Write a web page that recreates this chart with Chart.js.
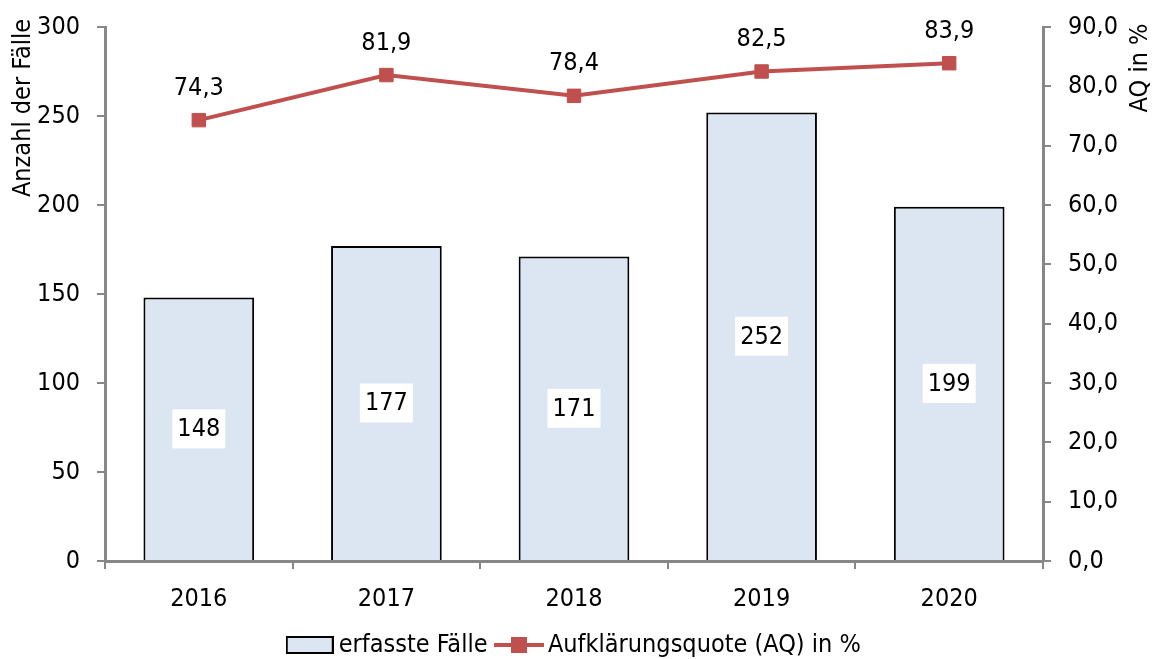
<!DOCTYPE html>
<html><head><meta charset="utf-8">
<script src="https://cdn.jsdelivr.net/npm/chart.js@4.4.0/dist/chart.umd.min.js"></script>
<style>html,body{margin:0;padding:0;background:#fff}#wrap{width:1154px;height:659px;position:relative}</style>
</head><body><div id="wrap"><canvas id="c"></canvas></div>
<script>
const years = ['2016', '2017', '2018', '2019', '2020'];
const cases = [148, 177, 171, 252, 199];
const clearanceRate = [74.3, 81.9, 78.4, 82.5, 83.9];
const seriesNames = ['erfasste Fälle', 'Aufklärungsquote (AQ) in %'];
const axisTitles = ['Anzahl der Fälle', 'AQ in %'];

const FONT = "'Liberation Sans Narrow','Arial Narrow','DejaVu Sans Condensed',sans-serif";
const BAR_FILL = '#DCE6F2';
const RED = '#C0504D';
const GRAY = '#878787';
const fmt = v => v.toFixed(1).replace('.', ',');

Chart.defaults.font.family = FONT;
Chart.defaults.font.size = 25;
Chart.defaults.color = '#000';

function barIcon() {
  const c = document.createElement('canvas');
  c.width = 48; c.height = 20;
  const x = c.getContext('2d');
  x.fillStyle = BAR_FILL; x.fillRect(1, 2, 46, 16);
  x.strokeStyle = '#000'; x.lineWidth = 2; x.strokeRect(1, 2, 46, 16);
  return c;
}
function lineIcon() {
  const c = document.createElement('canvas');
  c.width = 50; c.height = 20;
  const x = c.getContext('2d');
  x.fillStyle = RED; x.fillRect(0, 8, 50, 4);
  x.fillRect(17, 2, 16, 16);
  return c;
}

const labelPlugin = {
  id: 'valueLabels',
  afterDatasetsDraw(chart) {
    const ctx = chart.ctx;
    ctx.save();
    ctx.font = '25px ' + FONT;
    ctx.textAlign = 'center';
    ctx.textBaseline = 'middle';
    chart.getDatasetMeta(0).data.forEach((el, i) => {
      const cy = (el.y + el.base) / 2;
      ctx.fillStyle = '#fff';
      ctx.fillRect(el.x - 26.5, cy - 19.5, 53, 39);
      ctx.fillStyle = '#000';
      ctx.fillText(String(cases[i]), el.x, cy + 1);
    });
    chart.getDatasetMeta(1).data.forEach((el, i) => {
      ctx.fillStyle = '#000';
      ctx.fillText(fmt(clearanceRate[i]), el.x, el.y - 32);
    });
    ctx.restore();
  },
  afterDraw(chart) {
    const ctx = chart.ctx;
    ctx.save();
    ctx.font = '25px ' + FONT;
    ctx.fillStyle = '#000';
    ctx.textAlign = 'center';
    ctx.textBaseline = 'middle';
    ctx.translate(23, 108); ctx.rotate(-Math.PI / 2);
    ctx.fillText(axisTitles[0], 0, 0);
    ctx.restore();
    ctx.save();
    ctx.font = '25px ' + FONT;
    ctx.fillStyle = '#000';
    ctx.textAlign = 'center';
    ctx.textBaseline = 'middle';
    ctx.translate(1140, 68); ctx.rotate(-Math.PI / 2);
    ctx.fillText(axisTitles[1], 0, 0);
    ctx.restore();
  }
};

function noPad(s) { s.paddingTop = 0; s.paddingBottom = 0; }

new Chart(document.getElementById('c'), {
  data: {
    labels: years,
    datasets: [
      {
        type: 'bar', label: seriesNames[0], data: cases, yAxisID: 'y', order: 2,
        backgroundColor: BAR_FILL, borderColor: '#000', borderWidth: 2, borderSkipped: 'bottom',
        barPercentage: 0.59, categoryPercentage: 1
      },
      {
        type: 'line', label: seriesNames[1], data: clearanceRate, yAxisID: 'y1', order: 1,
        borderColor: RED, borderWidth: 4, tension: 0,
        pointStyle: 'rect', pointRadius: 9.5, pointBackgroundColor: RED, pointBorderColor: RED, pointBorderWidth: 1
      }
    ]
  },
  options: {
    responsive: true, maintainAspectRatio: false, animation: false,
    layout: { autoPadding: false, padding: { top: 27, bottom: -8.5, left: 0, right: 0 } },
    plugins: {
      tooltip: { enabled: false },
      legend: {
        position: 'bottom',
        labels: {
          usePointStyle: true, pointStyleWidth: 33, boxHeight: 25, padding: 15,
          font: { size: 25, family: FONT }, color: '#000',
          generateLabels: () => [
            { text: seriesNames[0], pointStyle: barIcon(), datasetIndex: 0, lineWidth: 0, fillStyle: BAR_FILL, strokeStyle: '#000', hidden: false },
            { text: seriesNames[1], pointStyle: lineIcon(), datasetIndex: 1, lineWidth: 0, fillStyle: RED, strokeStyle: RED, hidden: false }
          ]
        }
      }
    },
    scales: {
      x: {
        offset: true,
        grid: { offset: true, drawOnChartArea: false, tickLength: 8, color: GRAY, lineWidth: 2 },
        border: { color: GRAY, width: 3 },
        ticks: { padding: 15, color: '#000' },
        afterFit(s) { s.height = 56.5; }
      },
      y: {
        position: 'left', min: 0, max: 300,
        ticks: { stepSize: 50, padding: 17, color: '#000' },
        grid: { drawOnChartArea: false, tickLength: 8, color: GRAY, lineWidth: 2 },
        border: { color: GRAY, width: 3 },
        afterFit(s) { s.width = 105; noPad(s); }
      },
      y1: {
        position: 'right', min: 0, max: 90,
        ticks: { stepSize: 10, padding: 17, color: '#000', callback: v => fmt(v) },
        grid: { drawOnChartArea: false, tickLength: 8, color: GRAY, lineWidth: 2 },
        border: { color: GRAY, width: 3 },
        afterFit(s) { s.width = 111; noPad(s); }
      }
    }
  },
  plugins: [labelPlugin]
});
</script>
</body></html>
